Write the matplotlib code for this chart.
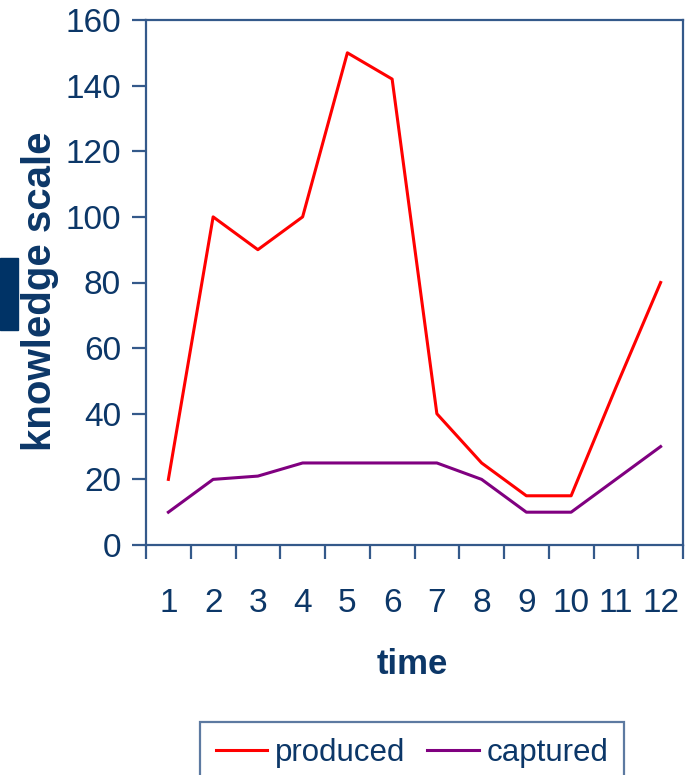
import matplotlib
matplotlib.use('Agg')
import matplotlib.pyplot as plt
import matplotlib.patches as patches
from matplotlib.ticker import FixedLocator

# data
time = [1, 2, 3, 4, 5, 6, 7, 8, 9, 10, 11, 12]
produced = [20, 100, 90, 100, 150, 142, 40, 25, 15, 15, 48, 80]
captured = [10, 20, 21, 25, 25, 25, 25, 20, 10, 10, 20, 30]
yticks = [0, 20, 40, 60, 80, 100, 120, 140, 160]

navy = '#0c3768'
axcol = '#34598a'
W, H = 692, 775

plt.rcParams['font.family'] = ['Liberation Sans Narrow', 'Liberation Sans', 'DejaVu Sans']

fig = plt.figure(figsize=(W / 100, H / 100), dpi=100)
ax = fig.add_axes([146 / W, 1 - 545 / H, (683 - 146) / W, (545 - 20) / H])

ax.plot(time, produced, color='#ff0000', lw=2.2, label='produced')
ax.plot(time, captured, color='#800080', lw=2.2, label='captured')

ax.set_xlim(0.5, 12.5)
ax.set_ylim(0, 160)
ax.set_yticks(yticks)
ax.set_xticks(time)
ax.xaxis.set_minor_locator(FixedLocator([t + 0.5 for t in [0] + time]))

for s in ax.spines.values():
    s.set_color(axcol)
    s.set_linewidth(1.6)

ax.tick_params(axis='y', direction='out', length=10, width=1.6, color=axcol,
               labelcolor=navy, labelsize=24, pad=8)
ax.tick_params(axis='x', which='major', length=0, labelcolor=navy,
               labelsize=24, pad=31)
ax.tick_params(axis='x', which='minor', direction='out', length=10,
               width=1.6, color=axcol)

ax.set_ylabel('knowledge scale', color=navy, fontsize=29, fontweight='bold',
              family=['Liberation Sans', 'DejaVu Sans'])
ax.yaxis.set_label_coords((40 - 146) / (683 - 146), (545 - 291) / (545 - 20))
ax.set_xlabel('time', color=navy, fontsize=25, fontweight='bold',
              family=['Liberation Sans', 'DejaVu Sans'])
ax.xaxis.set_label_coords((412 - 146) / (683 - 146), -(664 - 545) / (545 - 20))
ax.xaxis.label.set_verticalalignment('center')
ax.yaxis.label.set_verticalalignment('center')

# blue tab on the left edge
fig.patches.append(patches.Rectangle((0, 1 - 330 / H), 18 / W, 72 / H,
                                     transform=fig.transFigure,
                                     color='#003366', zorder=0))

leg = fig.legend(loc='upper left', bbox_to_anchor=(200 / W, 1 - 722 / H),
                 ncol=2, frameon=True, fancybox=False,
                 prop={'family': ['Liberation Sans', 'DejaVu Sans'], 'size': 22.5},
                 handlelength=1.65, handletextpad=0.25, columnspacing=0.7,
                 borderpad=0.5, borderaxespad=0)
leg.get_frame().set_edgecolor(axcol)
leg.get_frame().set_linewidth(1.6)
for t in leg.get_texts():
    t.set_color(navy)

fig.savefig('out.png', dpi=100)
